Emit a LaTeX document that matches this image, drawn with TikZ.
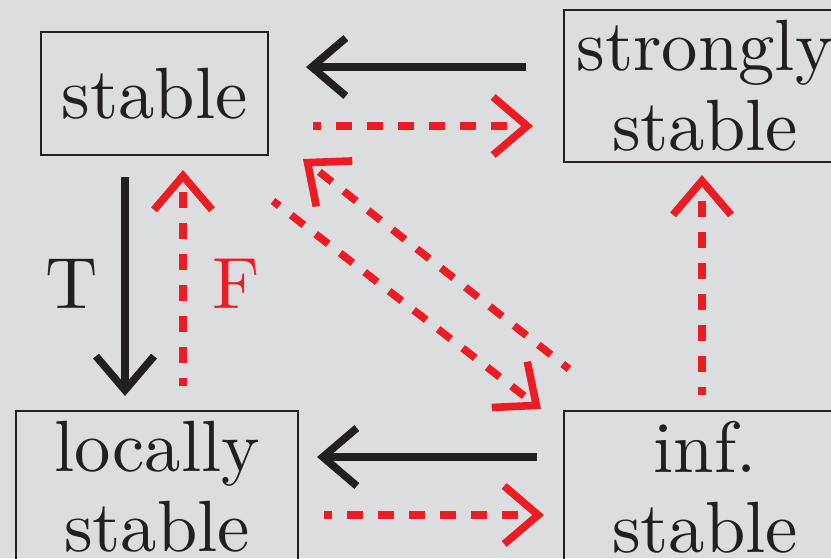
\documentclass[tikz,border=0pt]{standalone}
\usepackage{fontspec}
\setmainfont{lmroman10-regular.otf}
\usetikzlibrary{arrows.meta,calc}
\definecolor{bgGray}{RGB}{220,221,223}
\definecolor{inkBlack}{RGB}{35,31,32}
\definecolor{falseRed}{RGB}{237,28,36}
\begin{document}
\begin{tikzpicture}[x=0.5pt,y=-0.5pt,
  >={Straight Barb[length=17pt,width=29pt,sharp]},
  box/.style={draw=inkBlack, line width=1pt, inner sep=0pt, align=center, text=inkBlack, font=\fontsize{36.3}{40}\selectfont},
  implies/.style={->, line width=3.8pt, draw=inkBlack},
  fails/.style={->, line width=3.8pt, draw=falseRed, dash pattern=on 8pt off 7.5pt, dash phase=4pt},
  lab/.style={inner sep=0pt, font=\fontsize{36.3}{40}\selectfont}]

\fill[bgGray] (0,0) rectangle (831,558);
\useasboundingbox (0,0) rectangle (831,558);
\clip (0,0) rectangle (831,558);

\node[box, minimum width=113.5pt, minimum height=61.5pt] (stab) at (154.5,93.5) {stable};
\node[box, minimum width=141pt, minimum height=76pt] (strong) at (705,86) {strongly\\stable};
\node[box, minimum width=141pt, minimum height=76pt] (loc) at (157,487) {locally\\stable};
\node[box, minimum width=141pt, minimum height=76pt] (infst) at (705,487) {inf.\\stable};

% top row
\draw[implies] ($(strong.west)+(-37,-19)$) -- ($(stab.east)+(37,-26.5)$);
\draw[fails] ($(stab.east)+(44,32.5)$) -- ($(strong.west)+(-30,40)$);

% left column
\draw[implies] ($(stab.south)+(-29.5,21)$) -- ($(loc.north)+(-32,-14)$);
\node[lab, text=inkBlack] (tlab) at (72,283.5) {T};
\draw[fails] ($(loc.north)+(26,-24)$) -- ($(stab.south)+(28.5,14)$);
\node[lab, text=falseRed] (flab) at (236,283.5) {F};

% bottom row
\draw[implies] ($(infst.west)+(-26,-30)$) -- ($(loc.east)+(18,-30)$);
\draw[fails] ($(loc.east)+(25,28)$) -- ($(infst.west)+(-19,28)$);

% right column and diagonals
\draw[fails] ($(infst.north)+(-3,-15)$) -- ($(strong.south)+(-3,12)$);
\draw[fails] ($(infst.north west)+(6,-41)$) -- ($(stab.south east)+(34,3)$);
\draw[fails] ($(stab.south east)+(4,45)$) -- ($(infst.north west)+(-22,-1)$);

\end{tikzpicture}
\end{document}
